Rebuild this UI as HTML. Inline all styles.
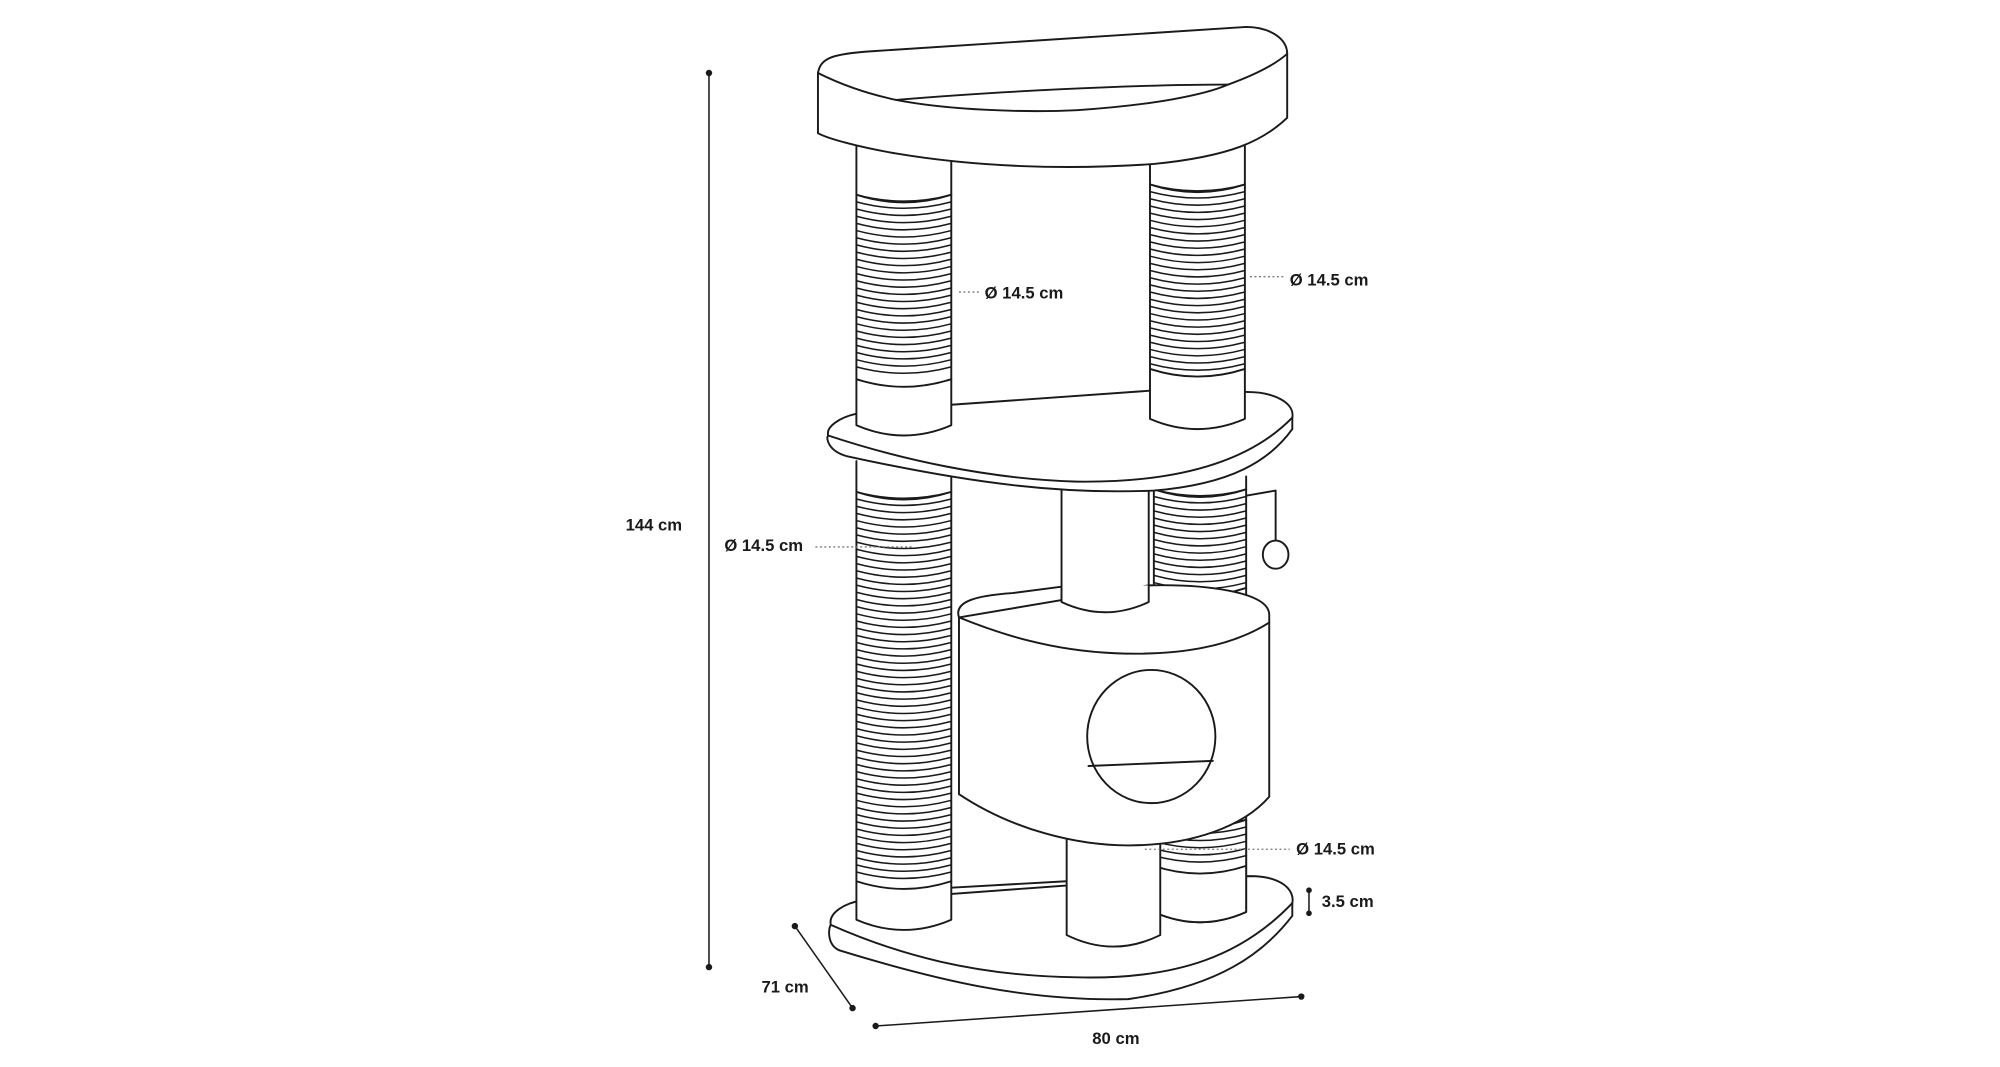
<!DOCTYPE html>
<html><head><meta charset="utf-8"><style>
html,body{margin:0;padding:0;background:#fff;}
svg{display:block}
text{font-family:"Liberation Sans",sans-serif;font-weight:bold;font-size:13px;fill:#1a1a1a}
</style></head><body>
<svg id="s" width="2000" height="1067" viewBox="0 0 1560 833" preserveAspectRatio="none" xmlns="http://www.w3.org/2000/svg">
<g fill="#fff" stroke="#1a1a1a" stroke-width="1.5" stroke-linejoin="round" stroke-linecap="round" id="g">
<path d="M742,693 L832,688 M905,686 L975,684 C1000,684 1010,695 1008,705 L1008,715 C985,745 950,770 880,780 C800,782 730,765 655,742 C645,738 646,725 648,722 C646,712 660,705 672,703 Z"/>
<path d="M648,722 C700,745 760,762 840,763 C920,765 970,745 1008,705" fill="none"/>
</g>
<g stroke="#1a1a1a" stroke-width="1.2" fill="none">
<line x1="553" y1="57" x2="553" y2="755"/>
<line x1="620" y1="723" x2="665" y2="787"/>
<line x1="683" y1="801" x2="1015" y2="778"/>
<line x1="1021" y1="695" x2="1021" y2="713"/>
</g>
<g fill="#1a1a1a">
<circle cx="553" cy="57" r="2.5"/><circle cx="553" cy="755" r="2.5"/>
<circle cx="620" cy="723" r="2.5"/><circle cx="665" cy="787" r="2.5"/>
<circle cx="683" cy="801" r="2.5"/><circle cx="1015" cy="778" r="2.5"/>
<circle cx="1021" cy="695" r="2.2"/><circle cx="1021" cy="713" r="2.2"/>
</g>
<g stroke="#777" stroke-width="1" stroke-dasharray="1.5,2" fill="none" id="lead"></g>
<text x="488" y="414">144 cm</text>
<text x="594" y="775">71 cm</text>
<text x="852" y="815">80 cm</text>
<text x="1031" y="708">3.5 cm</text>
<text x="768" y="233">Ø 14.5 cm</text>
<text x="1006" y="223">Ø 14.5 cm</text>
<text x="565" y="430">Ø 14.5 cm</text>
<text x="1011" y="667">Ø 14.5 cm</text>
</svg>
<script>
var NS="http://www.w3.org/2000/svg",g=document.getElementById('g'),svg=document.getElementById('s');
function P(d,fill,parent){var p=document.createElementNS(NS,'path');p.setAttribute('d',d);p.setAttribute('fill',fill||'none');(parent||g).appendChild(p);return p;}
function pole(x1,x2,yt,yb,st,sb,sag){
 sag=sag||8;var m=(x1+x2)/2;
 P('M'+x1+','+yt+' L'+x1+','+yb+' Q'+m+','+(yb+2*sag)+' '+x2+','+yb+' L'+x2+','+yt+'Z','#fff').setAttribute('stroke','none');
 P('M'+x1+','+yt+' L'+x1+','+yb+' Q'+m+','+(yb+2*sag)+' '+x2+','+yb+' L'+x2+','+yt);
 if(st!=null){
  for(var y=st;y<=sb;y+=5.6){var p=P('M'+x1+','+y+' Q'+m+','+(y+10)+' '+x2+','+y);p.setAttribute('stroke-width','1.2');}
  P('M'+x1+','+st+' Q'+m+','+(st+12)+' '+x2+','+st);
  P('M'+x1+','+(sb+4)+' Q'+m+','+(sb+16)+' '+x2+','+(sb+4));
 }
}
pole(900,972,372,712,382,455);
pole(900,972,640,712,640,672);
pole(832,905,640,730,null,null,9);
pole(668,742,360,718,384,684);
pole(828,896,380,470,null,null,8);
P('M972,387 L995,383 L995,423');
P('M995,423 m-10,10 a10,11 0 1,0 20,0 a10,11 0 1,0 -20,0','#fff');
P('M748,482 L748,620 C790,648 840,660 880,660 C930,660 970,645 990,622 L990,486 Z','#fff');
P('M748,482 C744,470 760,465 790,463 L828,458 M896,457 C940,456 990,462 990,480 L990,486 C960,505 920,512 870,510 C820,508 780,495 748,482 Z','#fff');
P('M828,458 L828,470 Q862,486 896,470 L896,457','#fff');
P('M898,523 m-50,0 a50,52 0 1,0 100,0 a50,52 0 1,0 -100,0','#fff').setAttribute('transform','translate(0,52)');
P('M849,598 L946,594');
P('M668,323 L668,330 M742,316 L897,305 M972,306 C995,306 1010,315 1008,326 L1008,335 C990,360 960,378 900,383 C830,386 760,378 660,356 C646,352 644,342 646,340 C644,333 655,326 668,323','#fff');
P('M646,340 C700,358 770,374 840,376 C920,377 975,360 1008,326');
pole(668,742,110,332,152,292);
pole(897,971,110,327,144,284);
P('M638,57 C640,45 650,42 680,40 L972,21 C990,21 1004,30 1004,42 L1004,92 C985,110 960,122 900,128 C830,133 760,130 700,120 C670,115 645,108 638,104 Z','#fff');
P('M638,57 C660,68 680,74 699,78 C740,86 800,88 840,86 C900,82 940,74 958,66 C980,58 995,50 1004,42');
P('M699,78 C770,72 880,66 958,66');
var L=document.getElementById('lead');
['M748,228 L764,228','M975,216 L1001,216','M636,427 L712,427','M893,663 L1006,663'].forEach(function(d){P(d,'none',L);});
</script>
</body></html>
